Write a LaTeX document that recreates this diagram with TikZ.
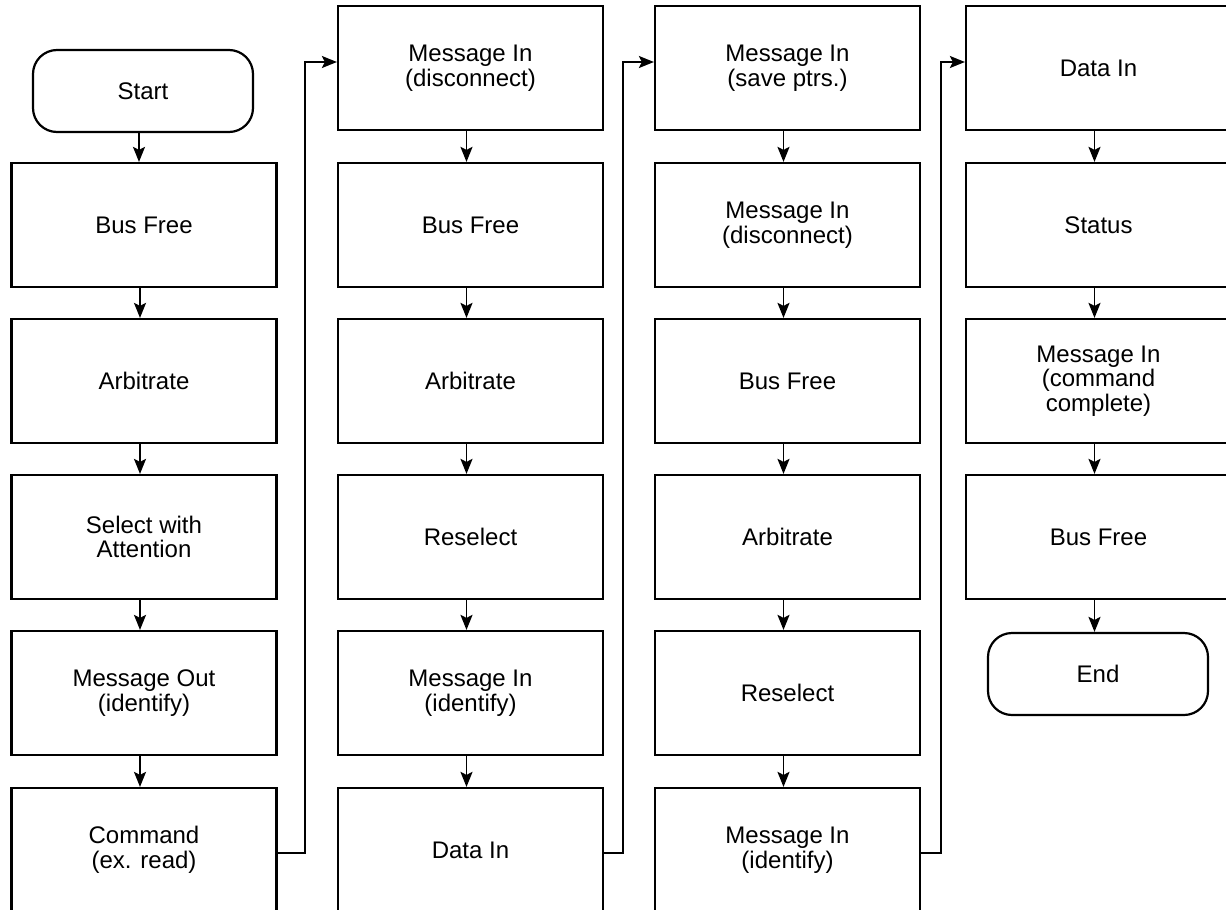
\documentclass[tikz,border=0pt]{standalone}
\usepackage{fontspec}
\setmainfont{Liberation Sans}
\usetikzlibrary{arrows.meta}
\tikzset{
  phase/.style={draw, line width=1.1pt, minimum width=132.5pt, minimum height=62pt,
    inner sep=0pt, align=center, font=\fontsize{12pt}{12.3pt}\selectfont},
  terminal/.style={draw, line width=1.1pt, rounded corners=12pt, minimum width=110pt,
    minimum height=41pt, inner sep=0pt, align=center, font=\fontsize{12pt}{12.3pt}\selectfont},
  flow/.style={line width=0.9pt, -{Stealth[length=7.5pt,width=6pt,inset=1.5pt]}},
}
\begin{document}
\begin{tikzpicture}[x=0.5pt, y=-0.5pt]
\clip (0,0) rectangle (1226,910);
\fill[white] (0,0) rectangle (1226,910);

% column 1: selection and command
\node[terminal] (start) at (143,91)   {Start};
\node[phase] (a1) at (144,225) {Bus Free};
\node[phase] (a2) at (144,381) {Arbitrate};
\node[phase] (a3) at (144,537) {Select with\\Attention};
\node[phase] (a4) at (144,693) {Message Out\\(identify)};
\node[phase] (a5) at (144,850) {Command\\(ex. read)};

% column 2: disconnect and reselect
\node[phase] (b0) at (470.5,68)  {Message In\\(disconnect)};
\node[phase] (b1) at (470.5,225) {Bus Free};
\node[phase] (b2) at (470.5,381) {Arbitrate};
\node[phase] (b3) at (470.5,537) {Reselect};
\node[phase] (b4) at (470.5,693) {Message In\\(identify)};
\node[phase] (b5) at (470.5,850) {Data In};

% column 3: save pointers, disconnect, reselect
\node[phase] (c0) at (787.5,68)  {Message In\\(save ptrs.)};
\node[phase] (c1) at (787.5,225) {Message In\\(disconnect)};
\node[phase] (c2) at (787.5,381) {Bus Free};
\node[phase] (c3) at (787.5,537) {Arbitrate};
\node[phase] (c4) at (787.5,693) {Reselect};
\node[phase] (c5) at (787.5,850) {Message In\\(identify)};

% column 4: data, status and completion
\node[phase] (d0) at (1098.5,68)  {Data In};
\node[phase] (d1) at (1098.5,225) {Status};
\node[phase] (d2) at (1098.5,381) {Message In\\(command\\complete)};
\node[phase] (d3) at (1098.5,537) {Bus Free};
\node[terminal] (end) at (1098,674) {End};

% arrows down each column, kept vertical
\foreach \u/\v in {start/a1,a1/a2,a2/a3,a3/a4,a4/a5,
                   b0/b1,b1/b2,b2/b3,b3/b4,b4/b5,
                   c0/c1,c1/c2,c2/c3,c3/c4,c4/c5,
                   d0/d1,d1/d2,d2/d3,d3/end}
  \draw[flow] ([xshift=-2pt]\u.south) -- ([xshift=-2pt]\u.south |- \v.north);

% links from the foot of one column to the head of the next
\coordinate (j1) at (305,62);
\coordinate (j2) at (623,62);
\coordinate (j3) at (941,62);
\draw[flow] ([yshift=-1.5pt]a5.east) -| (j1) -- (j1 -| b0.west);
\draw[flow] ([yshift=-1.5pt]b5.east) -| (j2) -- (j2 -| c0.west);
\draw[flow] ([yshift=-1.5pt]c5.east) -| (j3) -- (j3 -| d0.west);
\end{tikzpicture}
\end{document}
